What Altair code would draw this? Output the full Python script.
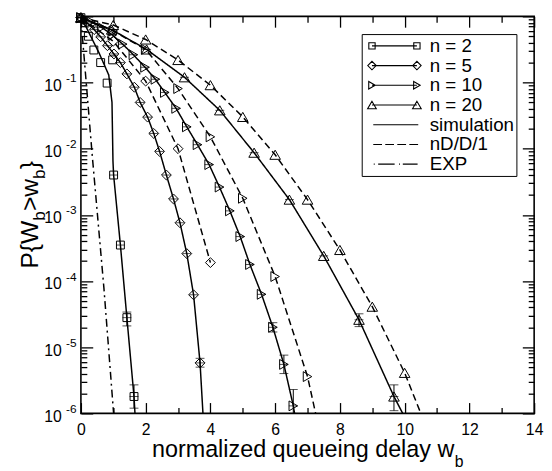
import altair as alt
import pandas as pd

FONT = "Liberation Sans"
W, H = 460, 403

# ---------------- axis values / labels ----------------
X_LABEL_VALUES = [0, 2, 4, 6, 8, 10, 12, 14]
X_TICK_VALUES = list(range(0, 15))
Y_LABEL_VALUES = [1e-6, 1e-5, 1e-4, 1e-3, 1e-2, 1e-1]
Y_LABEL_MANTISSA = "10"
Y_LABEL_EXPONENTS = ["-6", "-5", "-4", "-3", "-2", "-1"]
Y_TICK_VALUES = [m * 10.0 ** e for e in range(-6, 0) for m in range(1, 10)] + [1.0]

# ---------------- data ----------------
# n = 2
N2_SIM_X = [0.0, 1.01, 1.22, 1.42, 1.64]
N2_SIM_P = [0.955, 4.0e-3, 3.5e-4, 2.8e-5, 1.8e-6]
N2_CURVE_X = [0.0, 0.10, 0.56, 0.86, 0.96, 0.99, 1.01, 1.22, 1.42, 1.64, 1.67]
N2_CURVE_P = [0.955, 0.79, 0.28, 0.13, 0.050, 6.5e-3, 4.0e-3, 3.5e-4, 2.8e-5, 1.8e-6, 1.0e-6]
N2_DD_X = [0.23, 0.40, 0.61, 0.81, 0.98]
N2_DD_P = [0.50, 0.31, 0.20, 0.098, 0.22]
# n = 5
N5_SIM_X = [0.0, 0.20, 0.41, 0.61, 0.82, 1.02, 1.22, 1.42, 1.65, 1.83, 2.06, 2.25,
            2.43, 2.64, 2.86, 3.06, 3.27, 3.48, 3.68]
N5_SIM_P = [0.955, 0.79, 0.63, 0.49, 0.36, 0.27, 0.20, 0.135, 0.085, 0.050, 0.030, 0.017,
            9.1e-3, 4.0e-3, 1.74e-3, 7.6e-4, 2.6e-4, 6.2e-5, 5.8e-6]
N5_SIM_END = (3.77, 1.0e-6)
N5_DD_X = [0.0, 1.0, 2.0, 3.0, 4.0]
N5_DD_P = [0.955, 0.42, 0.105, 0.010, 1.9e-4]
# n = 10
N10_SIM_X = [0.0, 0.31, 0.64, 0.97, 1.29, 1.62, 1.98, 2.30, 2.59, 2.94, 3.27, 3.60,
             3.96, 4.28, 4.60, 4.92, 5.22, 5.58, 5.93, 6.27, 6.56]
N10_SIM_P = [0.955, 0.83, 0.68, 0.525, 0.38, 0.263, 0.17, 0.112, 0.0708, 0.0407, 0.0214,
             0.0115, 5.75e-3, 2.63e-3, 1.15e-3, 4.7e-4, 1.78e-4, 6.3e-5, 2.0e-5, 5.5e-6, 1.3e-6]
N10_SIM_END = (6.60, 1.0e-6)
N10_DD_X = [0.0, 1.0, 2.0, 3.0, 4.0, 5.0, 6.0, 7.0]
N10_DD_P = [0.955, 0.60, 0.316, 0.081, 0.0151, 1.78e-3, 1.17e-4, 3.6e-6]
N10_DD_END = (7.25, 1.0e-6)
# n = 20
N20_SIM_X = [0.0, 0.95, 2.03, 3.20, 4.29, 5.35, 6.44, 7.50, 8.59, 9.67]
N20_SIM_P = [0.955, 0.63, 0.316, 0.12, 0.038, 8.7e-3, 1.7e-3, 2.4e-4, 2.6e-5, 1.8e-6]
N20_SIM_END = (9.94, 1.0e-6)
N20_DD_X = [0.0, 1.0, 2.0, 3.0, 4.0, 5.0, 6.0, 7.0, 8.0, 9.0, 10.0]
N20_DD_P = [0.955, 0.74, 0.447, 0.219, 0.0912, 0.0302, 8.1e-3, 1.7e-3, 2.95e-4, 4.1e-5, 4.1e-6]
N20_DD_END = (10.5, 1.0e-6)
# EXP approximation
EXP_X = [0.0, 0.35, 0.71, 1.01]
EXP_P = [0.93, 7.9e-3, 7.9e-5, 1.0e-6]
# visible confidence intervals (simulation)
ERR_X = [1.42, 1.64, 3.68, 5.93, 6.27, 6.56, 8.59, 9.67]
ERR_LO = [2.1e-5, 1.2e-6, 5.0e-6, 1.7e-5, 4.0e-6, 1.0e-6, 2.05e-5, 1.1e-6]
ERR_HI = [3.4e-5, 2.7e-6, 6.8e-6, 2.35e-5, 7.6e-6, 2.3e-6, 3.2e-5, 2.7e-6]

LEGEND_LABELS = ["n = 2", "n = 5", "n = 10", "n = 20", "simulation", "nD/D/1", "EXP"]

# ---------------- tables ----------------
def table(name, kind, xs, ps):
    return pd.DataFrame({"series": name, "kind": kind, "x": xs, "p": ps})

lines_df = pd.concat([
    table("n2 sim", "sim", N2_CURVE_X, N2_CURVE_P),
    table("n5 sim", "sim", N5_SIM_X + [N5_SIM_END[0]], N5_SIM_P + [N5_SIM_END[1]]),
    table("n5 dd", "dd", N5_DD_X, N5_DD_P),
    table("n10 sim", "sim", N10_SIM_X + [N10_SIM_END[0]], N10_SIM_P + [N10_SIM_END[1]]),
    table("n10 dd", "dd", N10_DD_X + [N10_DD_END[0]], N10_DD_P + [N10_DD_END[1]]),
    table("n20 sim", "sim", N20_SIM_X + [N20_SIM_END[0]], N20_SIM_P + [N20_SIM_END[1]]),
    table("n20 dd", "dd", N20_DD_X + [N20_DD_END[0]], N20_DD_P + [N20_DD_END[1]]),
    table("exp", "exp", EXP_X, EXP_P),
], ignore_index=True)

marker_groups = [
    ("square", 64, pd.concat([table("n2", "sim", N2_SIM_X, N2_SIM_P), table("n2", "dd", N2_DD_X, N2_DD_P)])),
    ("diamond", 100, pd.concat([table("n5", "sim", N5_SIM_X, N5_SIM_P), table("n5", "dd", N5_DD_X, N5_DD_P)])),
    ("triangle-right", 100, pd.concat([table("n10", "sim", N10_SIM_X, N10_SIM_P), table("n10", "dd", N10_DD_X, N10_DD_P)])),
    ("triangle-up", 115, pd.concat([table("n20", "sim", N20_SIM_X, N20_SIM_P), table("n20", "dd", N20_DD_X, N20_DD_P)])),
]

cross_df = pd.concat([
    table("n2", "sim", N2_SIM_X, N2_SIM_P), table("n5", "sim", N5_SIM_X, N5_SIM_P),
    table("n10", "sim", N10_SIM_X, N10_SIM_P), table("n20", "sim", N20_SIM_X, N20_SIM_P),
], ignore_index=True)

err_df = pd.DataFrame({"x": ERR_X, "lo": ERR_LO, "hi": ERR_HI})
caps_df = pd.concat([pd.DataFrame({"x": ERR_X, "p": ERR_LO}), pd.DataFrame({"x": ERR_X, "p": ERR_HI})], ignore_index=True)

# ---------------- scales & axes ----------------
XS = alt.Scale(domain=[0, 14], nice=False, zero=False)
YS = alt.Scale(type="log", domain=[1e-6, 1], nice=False)

common = dict(grid=False, domain=False, title=None)
x_major = "datum.value % 2 === 0"
y_major = "abs(log(datum.value)/LN10 - round(log(datum.value)/LN10)) < 0.001"

AX_X_LABELS = alt.Axis(orient="bottom", values=X_LABEL_VALUES, ticks=False, labelFontSize=16,
                       labelFont=FONT, labelColor="black", labelPadding=8, labelFlush=False, **common)
AX_X_BOTTOM_TICKS = alt.Axis(orient="top", offset=-H, values=X_TICK_VALUES, labels=False, tickColor="black",
                             tickWidth=1.3, tickSize={"condition": {"test": x_major, "value": 11}, "value": 6}, **common)
AX_X_TOP_TICKS = alt.Axis(orient="bottom", offset=-H, values=X_TICK_VALUES, labels=False, tickColor="black",
                          tickWidth=1.3, tickSize={"condition": {"test": x_major, "value": 11}, "value": 6}, **common)

exp_list = "[" + ",".join("'%s'" % e for e in Y_LABEL_EXPONENTS) + "]"
AX_Y_MANTISSA = alt.Axis(orient="left", values=Y_LABEL_VALUES, ticks=False, labelExpr="'%s'" % Y_LABEL_MANTISSA,
                         labelFontSize=16, labelFont=FONT, labelColor="black", labelPadding=20, labelOffset=3, **common)
AX_Y_EXP = alt.Axis(orient="left", values=Y_LABEL_VALUES, ticks=False,
                    labelExpr=exp_list + "[round(log(datum.value)/LN10) + 6]",
                    labelFontSize=12, labelFont=FONT, labelColor="black", labelPadding=5, labelOffset=-5, **common)
AX_Y_LEFT_TICKS = alt.Axis(orient="right", offset=-W, values=Y_TICK_VALUES, labels=False, tickColor="black",
                           tickWidth=1.3, tickSize={"condition": {"test": y_major, "value": 12}, "value": 6}, **common)
AX_Y_RIGHT_TICKS = alt.Axis(orient="left", offset=-W, values=Y_TICK_VALUES, labels=False, tickColor="black",
                            tickWidth=1.3, tickSize={"condition": {"test": y_major, "value": 12}, "value": 6}, **common)

# ---------------- layers ----------------
lines = alt.Chart(lines_df).mark_line(color="black", strokeWidth=1.5, clip=True).encode(
    x=alt.X("x:Q", scale=XS, axis=AX_X_LABELS),
    y=alt.Y("p:Q", scale=YS, axis=AX_Y_MANTISSA),
    detail="series:N",
    strokeDash=alt.StrokeDash("kind:N", scale=alt.Scale(domain=["sim", "dd", "exp"],
                                                        range=[[1, 0], [7, 4], [8, 4, 2, 4]]), legend=None),
)

axis_pairs = [(AX_X_BOTTOM_TICKS, AX_Y_LEFT_TICKS), (AX_X_TOP_TICKS, AX_Y_RIGHT_TICKS), (None, AX_Y_EXP), (None, None)]
marker_layers = []
for (shape, size, df), (ax, ay) in zip(marker_groups, axis_pairs):
    marker_layers.append(
        alt.Chart(df).mark_point(shape=shape, size=size, filled=False, color="black", strokeWidth=1, opacity=1).encode(
            x=alt.X("x:Q", scale=XS, axis=ax), y=alt.Y("p:Q", scale=YS, axis=ay)))

crosses = alt.Chart(cross_df).mark_tick(orient="horizontal", size=9, thickness=1, color="black").encode(
    x=alt.X("x:Q", scale=XS, axis=None), y=alt.Y("p:Q", scale=YS, axis=None))
err_rules = alt.Chart(err_df).mark_rule(color="black", strokeWidth=1).encode(
    x=alt.X("x:Q", scale=XS, axis=None), y=alt.Y("lo:Q", scale=YS, axis=None), y2="hi:Q")
err_caps = alt.Chart(caps_df).mark_tick(orient="horizontal", size=9, thickness=1, color="black").encode(
    x=alt.X("x:Q", scale=XS, axis=None), y=alt.Y("p:Q", scale=YS, axis=None))

# ---------------- legend with drawn symbols ----------------
U = 28.0  # px per path unit (symbol box = 2U wide)
SH = 2.0  # shift of the drawn sample inside the symbol box (px)
def u(px):
    return (px + SH) / U
LC, RC = -22.6, 23.0  # marker centres relative to symbol centre (px)

def sq(c, a=3.2):
    return "M%.3f,%.3fH%.3fV%.3fH%.3fZ" % (u(c - a), (-a) / U, u(c + a), a / U, u(c - a))
def dia(c, r=4.3):
    return "M%.3f,0L%.3f,%.3fL%.3f,0L%.3f,%.3fZ" % (u(c - r), u(c), (-r) / U, u(c + r), u(c), r / U)
def tri_r(c, r=3.8):
    h = 0.866 * r
    return "M%.3f,0L%.3f,%.3fL%.3f,%.3fZ" % (u(c + h), u(c - h), (-r) / U, u(c - h), r / U)
def tri_u(c, r=4.4):
    h = 0.866 * r
    return "M%.3f,%.3fL%.3f,%.3fL%.3f,%.3fZ" % (u(c), (-h) / U, u(c - r), h / U, u(c + r), h / U)
def seg(a, b):
    return "M%.3f,0H%.3f" % (u(a), u(b))

link = seg(LC, RC)
dash_path = "".join(seg(-21.3 + i * 12.2, -21.3 + i * 12.2 + 8.9) for i in range(4))
dashdot_path = seg(-20.8, -19.8) + seg(-16.3, 0.4) + seg(4.9, 5.9) + seg(8.7, 23.7)
LEGEND_PATHS = [
    sq(LC) + link + sq(RC),
    dia(LC) + link + dia(RC),
    tri_r(LC) + link + tri_r(RC),
    tri_u(LC) + link + tri_u(RC),
    seg(-21.3, 24.4),
    dash_path,
    dashdot_path,
]
legend_df = pd.DataFrame({"key": LEGEND_LABELS, "x": 0.0, "p": 0.955})
legend_layer = alt.Chart(legend_df).mark_point(filled=False, color="black", opacity=0, strokeWidth=1.1).encode(
    x=alt.X("x:Q", scale=XS, axis=None), y=alt.Y("p:Q", scale=YS, axis=None),
    shape=alt.Shape("key:N", scale=alt.Scale(domain=LEGEND_LABELS, range=LEGEND_PATHS),
                    legend=alt.Legend(title=None, orient="top-right", offset=18, symbolSize=(2 * U) ** 2,
                                      symbolOpacity=1, symbolStrokeWidth=1.1, symbolStrokeColor="black",
                                      labelFontSize=19, labelFont=FONT, labelColor="black", labelOffset=9,
                                      labelAlign="left", labelBaseline="middle",
                                      clipHeight=20, rowPadding=0, padding=2, strokeColor="black",
                                      fillColor="white", labelLimit=300)),
)

# ---------------- titles (with subscripts) ----------------
ONE = alt.Data(values=[{"k": 0}])
EM = {"P": 0.667, "{": 0.334, "W": 0.944, ">": 0.584, "w": 0.722, "}": 0.334, "b": 0.556,
      "n": 0.556, "o": 0.556, "r": 0.333, "m": 0.833, "a": 0.556, "l": 0.222, "i": 0.222, "z": 0.5,
      "e": 0.556, "d": 0.556, " ": 0.278, "q": 0.556, "u": 0.556, "g": 0.556, "y": 0.5}
TF, SF = 23.7, 16.0

def width(t, f):
    return sum(EM[c] for c in t) * f

def text_layer(t, f, x, y, angle=0):
    return alt.Chart(ONE).mark_text(text=t, font=FONT, fontSize=f, align="left", baseline="alphabetic",
                                    angle=angle, color="black").encode(x=alt.value(x), y=alt.value(y))

x_main = "normalized queueing delay w"
x_total = width(x_main, TF) + width("b", SF)
x0 = W / 2 - x_total / 2
x_title = [text_layer(x_main, TF, x0, 447.7), text_layer("b", SF, x0 + width(x_main, TF) + 0.5, 457.0)]

YTF, YSF = 25.0, 17.5
y_pieces = [("P{W", YTF, 0.0), ("b", YSF, 7.5), (">w", YTF, 0.0), ("b", YSF, 7.5), ("}", YTF, 0.0)]
y_total = sum(width(t, f) for t, f, _ in y_pieces)
yy = H / 2 + y_total / 2
YT_X = -44.0
y_title = []
for t, f, dx in y_pieces:
    y_title.append(text_layer(t, f, YT_X + dx, yy, angle=270))
    yy -= width(t, f)

chart = alt.layer(
    lines, *marker_layers, crosses, err_rules, err_caps, legend_layer, *x_title, *y_title
).resolve_axis(x="independent", y="independent").resolve_scale(shape="independent").properties(
    width=W, height=H, autosize=alt.AutoSizeParams(type="none"),
    padding={"left": 74, "top": 5, "right": 10, "bottom": 56},
).configure_view(stroke="black", strokeWidth=1.6)

chart.save("out.html", embed_options={"renderer": "svg", "actions": False})
